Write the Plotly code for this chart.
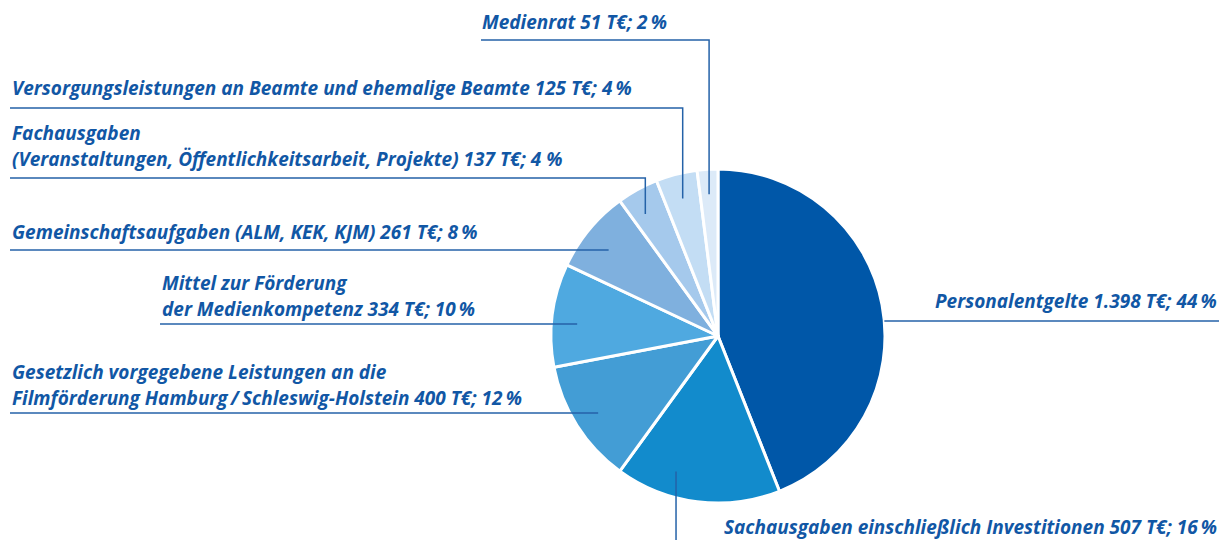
import math
import plotly.graph_objects as go

# ---------------- data ----------------
categories = [
    "Personalentgelte",
    "Sachausgaben einschließlich Investitionen",
    "Gesetzlich vorgegebene Leistungen an die Filmförderung Hamburg / Schleswig-Holstein",
    "Mittel zur Förderung der Medienkompetenz",
    "Gemeinschaftsaufgaben (ALM, KEK, KJM)",
    "Fachausgaben (Veranstaltungen, Öffentlichkeitsarbeit, Projekte)",
    "Versorgungsleistungen an Beamte und ehemalige Beamte",
    "Medienrat",
]
values_teur = [1398, 507, 400, 334, 261, 137, 125, 51]
percent = [44, 16, 12, 10, 8, 4, 4, 2]
colors = ["#0057A8", "#128BCC", "#439DD5", "#4FA9E0", "#7FB0DE", "#A5C9EC", "#C3DDF4", "#DCEAF8"]

label_lines = [
    ["Personalentgelte 1.398 T€; 44\u2009%"],
    ["Sachausgaben einschließlich Investitionen 507 T€; 16\u2009%"],
    ["Gesetzlich vorgegebene Leistungen an die",
     "Filmförderung Hamburg\u2009/\u2009Schleswig-Holstein 400 T€; 12\u2009%"],
    ["Mittel zur Förderung", "der Medienkompetenz 334 T€; 10\u2009%"],
    ["Gemeinschaftsaufgaben (ALM, KEK, KJM) 261 T€; 8\u2009%"],
    ["Fachausgaben", "(Veranstaltungen, Öffentlichkeitsarbeit, Projekte) 137 T€; 4 %"],
    ["Versorgungsleistungen an Beamte und ehemalige Beamte 125 T€; 4\u2009%"],
    ["Medienrat 51 T€; 2\u2009%"],
]

# ---------------- layout (page pixels) ----------------
W, H = 1230, 540
OFF = 8  # page body margin
CX, CY, R = 718, 336, 167
TEXT_COLOR = "#1157A5"
LINE_COLOR = "#2462A8"
FONT = "Open Sans"
FSIZE = 19

# shift = angular offset (deg) of the leader anchor from the slice middle
label_layout = [
    dict(x=1219, xanchor="right", y=301, kind="edge", ly=321, lx=1219, shift=0),
    dict(x=1219, xanchor="right", y=527, kind="down", ly=545, lx=None, shift=10),
    dict(x=10, xanchor="left", y=372, kind="h", ly=413, lx=10, shift=0),
    dict(x=160, xanchor="left", y=283, kind="h", ly=324, lx=160, shift=0),
    dict(x=10, xanchor="left", y=232, kind="h", ly=250, lx=10, shift=0),
    dict(x=10, xanchor="left", y=133, kind="hv", ly=178, lx=10, shift=-2),
    dict(x=10, xanchor="left", y=88, kind="hv", ly=108, lx=10, shift=0),
    dict(x=480, xanchor="left", y=22, kind="hv", ly=40, lx=481, shift=0),
]
LINE_SPACING = 26
ANCHOR_FRAC = 0.85


def px(x):
    return (x - OFF) / W


def py(y):
    return 1 - (y - OFF) / H


fig = go.Figure(
    go.Pie(
        labels=categories,
        values=percent,
        customdata=values_teur,
        sort=False,
        direction="clockwise",
        rotation=0,
        marker=dict(colors=colors, line=dict(color="white", width=3)),
        textinfo="none",
        hoverinfo="none",
        showlegend=False,
        domain=dict(x=[px(CX - R), px(CX + R)], y=[py(CY + R), py(CY - R)]),
    )
)

total = sum(percent)
cum = 0
annotations = []
shapes = []
for lines, lay, p in zip(label_lines, label_layout, percent):
    mid = (cum + p / 2) / total * 2 * math.pi + math.radians(lay["shift"])
    cum += p
    ax = CX + ANCHOR_FRAC * R * math.sin(mid)
    ay = CY - ANCHOR_FRAC * R * math.cos(mid)

    for i, t in enumerate(lines):
        annotations.append(dict(
            text=t, x=px(lay["x"]), y=py(lay["y"] + i * LINE_SPACING),
            xref="paper", yref="paper", xanchor=lay["xanchor"], yanchor="middle",
            showarrow=False,
            font=dict(family=FONT, size=FSIZE, color=TEXT_COLOR, weight="bold", style="italic"),
        ))

    ly = lay["ly"]
    if lay["kind"] == "hv":
        path = f"M {px(lay['lx'])},{py(ly)} L {px(ax)},{py(ly)} L {px(ax)},{py(ay)}"
    elif lay["kind"] == "h":
        path = f"M {px(lay['lx'])},{py(ly)} L {px(ax)},{py(ly)}"
    elif lay["kind"] == "down":
        path = f"M {px(ax)},{py(ay)} L {px(ax)},{py(ly)}"
    else:
        ex = CX + math.sqrt(max(R * R - (ly - CY) ** 2, 0))
        path = f"M {px(ex)},{py(ly)} L {px(lay['lx'])},{py(ly)}"
    shapes.append(dict(type="path", path=path, xref="paper", yref="paper",
                       line=dict(color=LINE_COLOR, width=1.5), layer="above"))

fig.update_layout(
    width=W, height=H,
    margin=dict(l=0, r=0, t=0, b=0),
    paper_bgcolor="white", plot_bgcolor="white",
    annotations=annotations, shapes=shapes,
)

fig.write_html("out.html")
